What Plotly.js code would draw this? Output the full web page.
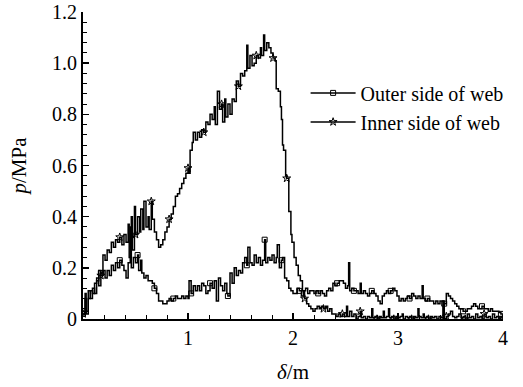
<!DOCTYPE html>
<html><head><meta charset="utf-8">
<script src="https://cdn.plot.ly/plotly-3.0.1.min.js"></script>
<style>html,body{margin:0;padding:0;background:#fff}</style>
</head><body><div id="chart" style="width:523px;height:387px"></div>
<script>
const seriesNames = ['Outer side of web', 'Inner side of web'];
const xTickVals = [1, 2, 3, 4];
const xTickText = ['1', '2', '3', '4'];
const yTickVals = [0, 0.2, 0.4, 0.6, 0.8, 1.0, 1.2];
const yTickText = ['0', '0.2', '0.4', '0.6', '0.8', '1.0', '1.2'];

const xOuter = [0.00,0.02,0.03,0.05,0.07,0.09,0.11,0.13,0.15,0.17,0.19,0.21,0.23,0.25,0.27,0.29,0.31,0.33,0.35,0.37,0.39,0.41,0.43,0.45,0.46,0.48,0.50,0.52,0.53,0.55,0.56,0.58,0.60,0.62,0.64,0.66,0.68,0.70,0.72,0.74,0.76,0.78,0.80,0.82,0.84,0.86,0.88,0.90,0.92,0.94,0.96,0.98,1.00,1.01,1.03,1.05,1.07,1.09,1.11,1.13,1.15,1.17,1.19,1.21,1.23,1.25,1.27,1.29,1.31,1.33,1.35,1.37,1.38,1.40,1.42,1.44,1.46,1.48,1.50,1.52,1.54,1.56,1.57,1.59,1.61,1.63,1.65,1.67,1.69,1.71,1.73,1.74,1.76,1.78,1.80,1.82,1.84,1.85,1.87,1.89,1.90,1.92,1.94,1.96,1.98,2.00,2.02,2.04,2.06,2.08,2.10,2.12,2.14,2.16,2.18,2.20,2.22,2.24,2.26,2.28,2.30,2.32,2.34,2.36,2.38,2.40,2.42,2.44,2.46,2.48,2.50,2.52,2.53,2.54,2.56,2.58,2.60,2.62,2.64,2.65,2.67,2.69,2.71,2.73,2.75,2.77,2.79,2.81,2.83,2.85,2.87,2.89,2.91,2.93,2.95,2.97,2.99,3.01,3.03,3.05,3.07,3.09,3.11,3.13,3.15,3.17,3.19,3.21,3.23,3.24,3.26,3.28,3.30,3.32,3.34,3.36,3.38,3.40,3.42,3.43,3.44,3.46,3.48,3.50,3.52,3.54,3.56,3.58,3.60,3.62,3.64,3.66,3.68,3.70,3.72,3.74,3.76,3.78,3.80,3.82,3.84,3.86,3.88,3.90,3.92,3.94,3.96,3.98,4.00];
const pOuter = [0.02,0.08,0.02,0.11,0.08,0.12,0.10,0.16,0.13,0.18,0.19,0.16,0.19,0.17,0.21,0.19,0.22,0.20,0.23,0.21,0.19,0.16,0.22,0.36,0.20,0.24,0.22,0.25,0.19,0.23,0.18,0.16,0.17,0.15,0.15,0.14,0.12,0.10,0.07,0.07,0.06,0.06,0.07,0.08,0.07,0.08,0.09,0.08,0.08,0.09,0.08,0.09,0.08,0.15,0.10,0.13,0.11,0.13,0.11,0.14,0.13,0.10,0.11,0.14,0.12,0.15,0.07,0.16,0.13,0.11,0.14,0.10,0.09,0.18,0.14,0.20,0.17,0.19,0.18,0.22,0.24,0.21,0.28,0.22,0.21,0.25,0.22,0.24,0.21,0.23,0.31,0.22,0.24,0.23,0.25,0.22,0.24,0.29,0.20,0.23,0.24,0.16,0.15,0.12,0.11,0.10,0.10,0.12,0.11,0.09,0.11,0.12,0.10,0.11,0.11,0.10,0.11,0.10,0.11,0.10,0.09,0.11,0.12,0.11,0.14,0.13,0.14,0.15,0.15,0.14,0.12,0.13,0.22,0.11,0.12,0.11,0.11,0.10,0.14,0.10,0.11,0.10,0.09,0.10,0.11,0.10,0.09,0.07,0.06,0.09,0.10,0.11,0.10,0.11,0.12,0.11,0.09,0.07,0.08,0.07,0.08,0.09,0.08,0.10,0.09,0.08,0.09,0.08,0.13,0.08,0.07,0.08,0.07,0.07,0.06,0.07,0.06,0.07,0.07,0.00,0.06,0.10,0.09,0.08,0.07,0.06,0.05,0.04,0.04,0.03,0.03,0.04,0.04,0.05,0.06,0.05,0.04,0.04,0.05,0.04,0.04,0.03,0.04,0.03,0.03,0.03,0.025,0.02,0.00];

const xInner = [0.00,0.02,0.03,0.05,0.07,0.09,0.11,0.13,0.15,0.17,0.19,0.21,0.23,0.25,0.27,0.29,0.31,0.33,0.35,0.37,0.39,0.41,0.43,0.44,0.46,0.47,0.49,0.50,0.52,0.54,0.55,0.57,0.58,0.60,0.62,0.63,0.65,0.66,0.68,0.70,0.72,0.74,0.76,0.78,0.80,0.82,0.84,0.86,0.88,0.90,0.92,0.94,0.96,0.98,1.00,1.01,1.02,1.04,1.05,1.07,1.09,1.11,1.13,1.15,1.17,1.19,1.21,1.23,1.25,1.26,1.28,1.30,1.32,1.33,1.35,1.36,1.38,1.40,1.42,1.44,1.46,1.48,1.50,1.52,1.54,1.56,1.57,1.59,1.61,1.63,1.65,1.67,1.69,1.70,1.72,1.73,1.75,1.77,1.79,1.81,1.83,1.84,1.86,1.88,1.89,1.90,1.91,1.93,1.94,1.96,1.98,1.99,2.01,2.03,2.05,2.07,2.09,2.11,2.13,2.15,2.17,2.19,2.21,2.23,2.25,2.27,2.29,2.31,2.33,2.35,2.37,2.39,2.41,2.43,2.45,2.47,2.49,2.51,2.52,2.54,2.56,2.58,2.60,2.62,2.64,2.65,2.67,2.69,2.71,2.73,2.75,2.76,2.78,2.80,2.82,2.84,2.86,2.87,2.89,2.91,2.92,2.94,2.96,2.98,3.00,3.02,3.04,3.05,3.07,3.09,3.11,3.13,3.15,3.17,3.19,3.20,3.22,3.24,3.25,3.27,3.29,3.31,3.33,3.35,3.37,3.39,3.41,3.43,3.44,3.46,3.48,3.50,3.52,3.54,3.56,3.58,3.60,3.62,3.64,3.66,3.68,3.70,3.72,3.74,3.76,3.78,3.80,3.82,3.84,3.86,3.88,3.90,3.92,3.94,3.96,3.98,4.00];
const pInner = [0.02,0.10,0.03,0.08,0.11,0.10,0.14,0.15,0.19,0.17,0.25,0.23,0.27,0.26,0.30,0.28,0.31,0.30,0.32,0.29,0.33,0.30,0.37,0.24,0.40,0.27,0.44,0.33,0.40,0.34,0.43,0.35,0.46,0.36,0.40,0.35,0.46,0.39,0.34,0.31,0.28,0.29,0.31,0.34,0.36,0.39,0.41,0.44,0.48,0.49,0.51,0.53,0.55,0.57,0.59,0.57,0.66,0.69,0.73,0.70,0.73,0.71,0.74,0.73,0.77,0.76,0.80,0.78,0.83,0.76,0.89,0.82,0.84,0.77,0.86,0.79,0.84,0.80,0.86,0.85,0.93,0.91,0.96,0.95,0.97,1.07,0.98,1.03,0.99,1.00,1.03,1.02,1.06,1.03,1.11,1.05,1.08,1.06,1.04,1.02,1.01,0.90,0.89,0.83,0.78,0.68,0.66,0.56,0.55,0.42,0.33,0.30,0.24,0.21,0.17,0.15,0.11,0.08,0.06,0.05,0.04,0.03,0.04,0.05,0.04,0.05,0.04,0.05,0.03,0.04,0.02,0.02,0.01,0.02,0.01,0.02,0.01,0.05,0.01,0.03,0.01,0.02,0.00,0.01,0.03,0.005,0.01,0.00,0.01,0.005,0.04,0.005,0.01,0.00,0.01,0.005,0.03,0.005,0.01,0.04,0.005,0.01,0.00,0.01,0.005,0.01,0.02,0.00,0.01,0.005,0.01,0.00,0.01,0.005,0.04,0.01,0.005,0.02,0.005,0.01,0.00,0.01,0.005,0.01,0.00,0.01,0.005,0.07,0.00,0.01,0.02,0.03,0.01,0.005,0.01,0.02,0.005,0.01,0.00,0.02,0.005,0.01,0.00,0.02,0.005,0.01,0.00,0.02,0.005,0.01,0.00,0.02,0.005,0.01,0.00,0.01,0.00];

const FONT = '"Liberation Serif", serif';
const markEvery = 9;
function markerColors(arr) {
  return arr.map((_, i) => (i % markEvery === 0 ? '#000' : 'rgba(0,0,0,0)'));
}

const traces = [
  {
    x: xOuter, y: pOuter, name: seriesNames[0], type: 'scatter', mode: 'lines+markers',
    line: {color: '#000', width: 1.5, shape: 'hv'},
    marker: {symbol: 'square-open', size: 5, color: markerColors(xOuter), line: {width: 1}},
    cliponaxis: true
  },
  {
    x: xInner, y: pInner, name: seriesNames[1], type: 'scatter', mode: 'lines+markers',
    line: {color: '#000', width: 1.5, shape: 'hv'},
    marker: {symbol: 'star-open', size: 6, color: markerColors(xInner), line: {width: 1}},
    cliponaxis: true
  }
];

const layout = {
  width: 523, height: 387,
  margin: {l: 83, r: 20, t: 12, b: 68},
  paper_bgcolor: '#fff', plot_bgcolor: '#fff',
  font: {family: FONT, color: '#000', size: 18},
  showlegend: true,
  legend: {
    x: 0.53, xanchor: 'left', y: 0.80, yanchor: 'top',
    bgcolor: 'rgba(0,0,0,0)', borderwidth: 0,
    font: {family: FONT, size: 20, color: '#000'},
    itemwidth: 45, tracegroupgap: 0
  },
  xaxis: {
    range: [0, 4], tickvals: xTickVals, ticktext: xTickText,
    showline: true, linecolor: '#000', linewidth: 2, mirror: false,
    ticks: 'inside', ticklen: 6, tickwidth: 1.5, tickcolor: '#000',
    minor: {dtick: 0.2, tick0: 0, ticks: 'inside', ticklen: 4, tickwidth: 1, tickcolor: '#000'},
    showgrid: false, zeroline: false, ticklabeloverflow: 'allow',
    tickfont: {family: FONT, size: 20},
    title: {text: '<i>δ</i>/m', font: {family: FONT, size: 21}, standoff: 16}
  },
  yaxis: {
    range: [0, 1.2001], tickvals: yTickVals, ticktext: yTickText,
    showline: true, linecolor: '#000', linewidth: 2, mirror: false,
    ticks: 'inside', ticklen: 6, tickwidth: 1.5, tickcolor: '#000',
    minor: {dtick: 0.04, tick0: 0, ticks: 'inside', ticklen: 4, tickwidth: 1, tickcolor: '#000'},
    showgrid: false, zeroline: false, ticklabeloverflow: 'allow',
    tickfont: {family: FONT, size: 20},
    title: {text: '<i>p</i>/MPa', font: {family: FONT, size: 21}, standoff: 20}
  }
};

Plotly.newPlot('chart', traces, layout, {displayModeBar: false, staticPlot: true});
</script>
</body></html>
